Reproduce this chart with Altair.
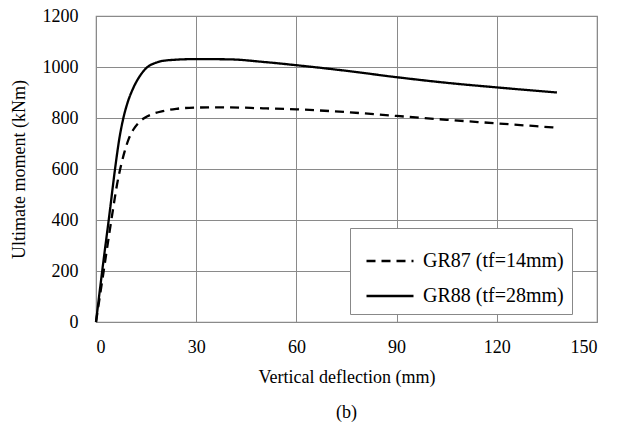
import altair as alt
import pandas as pd

# GR87 (tf=14mm) – dashed
gr87_x = [0, 2.3, 4.6, 6.6, 7.6, 8.6, 9.8, 11.2, 12.8, 14.5, 17, 20, 24, 30, 38, 50, 60, 75, 90, 105, 120, 138]
gr87_y = [0, 200, 400, 560, 620, 670, 718, 755, 782, 800, 816, 827, 836, 841, 842, 838, 834, 823, 808, 793, 779, 762]
# GR88 (tf=28mm) – solid
gr88_x = [0, 2, 4, 5.7, 7, 8.2, 9.5, 11, 13, 15, 18, 22, 30, 40, 50, 60, 75, 90, 105, 120, 138]
gr88_y = [0, 215, 420, 600, 720, 800, 862, 913, 962, 995, 1017, 1027, 1031, 1030, 1020, 1007, 985, 960, 938, 920, 900]

series = ["GR87 (tf=14mm)", "GR88 (tf=28mm)"]

df = pd.concat([
    pd.DataFrame({"x": gr87_x, "y": gr87_y, "s": series[0]}),
    pd.DataFrame({"x": gr88_x, "y": gr88_y, "s": series[1]}),
])

FONT = "Liberation Serif"

chart = alt.Chart(df).mark_line(color="black", strokeWidth=2.3, interpolate="monotone").encode(
    x=alt.X("x:Q", title="Vertical deflection (mm)",
            scale=alt.Scale(domain=[0, 150], nice=False),
            axis=alt.Axis(values=[0, 30, 60, 90, 120, 150], ticks=False, labelPadding=16,
                          titlePadding=12, format="d",
                          labelFont=FONT, titleFont=FONT)),
    y=alt.Y("y:Q", title="Ultimate moment (kNm)",
            scale=alt.Scale(domain=[0, 1200], nice=False),
            axis=alt.Axis(values=[0, 200, 400, 600, 800, 1000, 1200], ticks=False,
                          labelPadding=18, titlePadding=14, format="d",
                          labelFont=FONT, titleFont=FONT)),
    strokeDash=alt.StrokeDash("s:N", sort=series,
        scale=alt.Scale(domain=series, range=[[9, 6], [1, 0]]),
        legend=alt.Legend(title=None, orient="none", legendX=254, legendY=212,
                          symbolType="stroke", symbolSize=2209, symbolStrokeWidth=2.3,
                          symbolStrokeColor="black", symbolOffset=7,
                          labelFont=FONT, labelFontSize=20, labelColor="black",
                          strokeColor="#888", fillColor="white", padding=8,
                          titlePadding=0, rowPadding=0, labelOffset=8)),
    order="x:Q",
).properties(
    width=501, height=306,
    title=alt.TitleParams("(b)", orient="bottom", font=FONT, fontSize=18,
                          fontWeight="normal", color="black", offset=18),
    autosize=alt.AutoSizeParams(type="none"),
    padding={"left": 96, "top": 16, "right": 20, "bottom": 109},
).configure(font=FONT).configure_axis(
    labelFont=FONT, titleFont=FONT, labelFontSize=18, titleFontSize=18,
    labelColor="black", titleColor="black", titleFontWeight="normal",
    gridColor="#8a8a8a", gridWidth=1, gridOpacity=1, domainColor="#8a8a8a",
).configure_legend(labelFont=FONT).configure_view(stroke="#8a8a8a", strokeWidth=1.2)

chart.save("out.html", embed_options={"renderer": "svg", "actions": False})
